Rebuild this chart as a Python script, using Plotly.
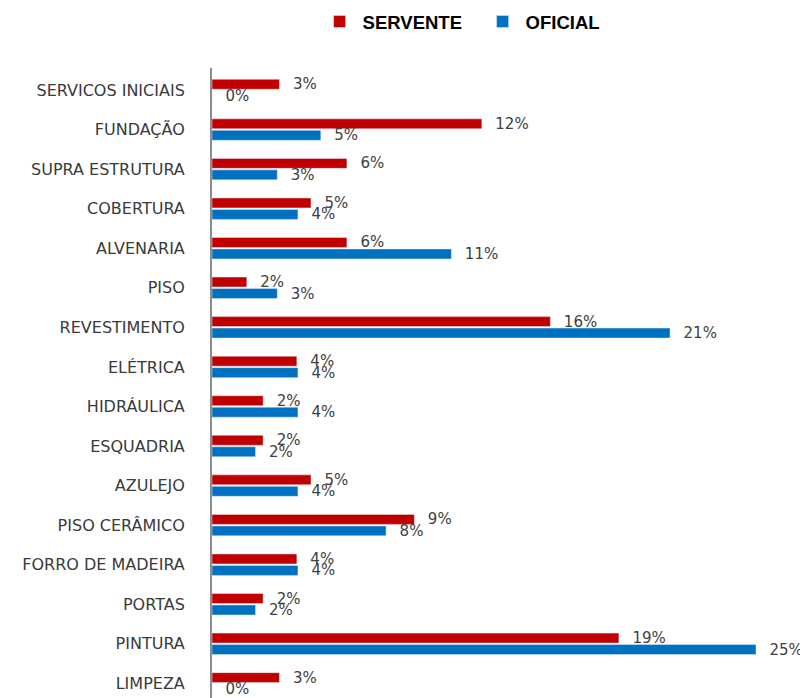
import plotly.graph_objects as go

categories = ["SERVICOS INICIAIS", "FUNDAÇÃO", "SUPRA ESTRUTURA", "COBERTURA", "ALVENARIA",
              "PISO", "REVESTIMENTO", "ELÉTRICA", "HIDRÁULICA", "ESQUADRIA", "AZULEJO",
              "PISO CERÂMICO", "FORRO DE MADEIRA", "PORTAS", "PINTURA", "LIMPEZA"]
servente = [3.1, 12.4, 6.2, 4.55, 6.2, 1.6, 15.55, 3.9, 2.35, 2.35, 4.55, 9.3, 3.9, 2.35, 18.7, 3.1]
oficial = [0.0, 5.0, 3.0, 3.95, 11.0, 3.0, 21.05, 3.95, 3.95, 2.0, 3.95, 8.0, 3.95, 2.0, 25.0, 0.0]

label_font = dict(family="DejaVu Sans, sans-serif", size=15, color="#404040")

fig = go.Figure()
fig.add_trace(go.Bar(
    y=categories, x=servente, name="SERVENTE", orientation="h",
    marker=dict(color="#C00000"),
    texttemplate="\u2002\u2009%{x:.0f}%", textposition="outside",
    textfont=label_font, cliponaxis=False, constraintext="none",
))
fig.add_trace(go.Bar(
    y=categories, x=oficial, name="OFICIAL", orientation="h",
    marker=dict(color="#0070C0"),
    texttemplate="\u2002\u2009%{x:.0f}%", textposition="outside",
    textfont=label_font, cliponaxis=False, constraintext="none",
))

fig.update_layout(
    width=800, height=690,
    margin=dict(l=204, r=10, t=60, b=0, autoexpand=False),
    paper_bgcolor="white", plot_bgcolor="white",
    barmode="group", bargap=0.42, bargroupgap=0.13,
    legend=dict(
        orientation="h", xref="container", yref="container",
        x=0.5895, y=0.9797, xanchor="center", yanchor="middle",
        font=dict(family="Liberation Sans, Arial, sans-serif", size=18.5, color="#000000", weight="bold"),
        itemwidth=36, entrywidth=112,
    ),
    xaxis=dict(visible=False, range=[0, 26.93]),
    yaxis=dict(
        categoryorder="array", categoryarray=categories,
        range=[15.37, -0.556], automargin=False,
        showline=True, linecolor="#8c8c8c", linewidth=2,
        showgrid=False, zeroline=False, ticks="",
        ticklabelstandoff=22,
        tickfont=dict(family="DejaVu Sans, sans-serif", size=16, color="#3a3a3a"),
    ),
)

fig.write_html("out.html")
